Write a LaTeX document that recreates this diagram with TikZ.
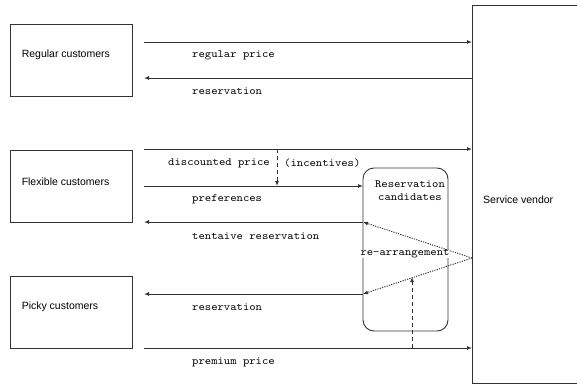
\documentclass[tikz,border=0pt]{standalone}
\usepackage{fontspec}
\setmainfont{Liberation Sans}
\setmonofont[FakeStretch=1.1]{Latin Modern Mono}
\usetikzlibrary{arrows.meta}
\definecolor{ln}{HTML}{333333}
\tikzset{
  every picture/.style={x=1pt,y=-1pt},
  custbox/.style={draw=ln,line width=0.9pt,minimum width=122pt,minimum height=72pt,inner sep=0pt},
  btext/.style={anchor=west,inner sep=0pt,font=\fontsize{10.5}{12}\selectfont},
  mtext/.style={inner sep=0pt,font=\ttfamily\fontsize{11}{13.5}\selectfont},
  flow/.style={draw=ln,line width=0.9pt,-{Latex[length=5pt,width=4pt]}},
  dflow/.style={flow,dash pattern=on 4pt off 3pt},
  oflow/.style={flow,dash pattern=on 1.2pt off 1.2pt},
}
\begin{document}
\begin{tikzpicture}
\useasboundingbox (0,0) rectangle (577,388);
% customer boxes
\node[custbox] (reg) at (71,60) {};
\node[btext] (regt) at ([xshift=12pt,yshift=5pt]reg.west) {Regular customers};
\node[custbox] (flex) at (71,186) {};
\node[btext] (flext) at ([xshift=12pt,yshift=4pt]flex.west) {Flexible customers};
\node[custbox] (picky) at (71,312) {};
\node[btext] (pickyt) at ([xshift=12pt,yshift=5pt]picky.west) {Picky customers};
% vendor
\draw[draw=ln,line width=0.9pt] (472,5.5) rectangle (585,383);
\node[btext] (vend) at (483,200) {Service vendor};
% reservation candidates
\node[draw=ln,line width=0.9pt,rounded corners=11pt,minimum width=85pt,minimum height=163pt,inner sep=0pt] (rc) at (405.5,249.5) {};
\node[mtext,align=center] (rct) at (410,190.5) {Reservation\\candidates};
% anchor coordinates
\coordinate (a1s) at (144,42);  \coordinate (a1e) at (472,42);
\coordinate (a2s) at (472,78);  \coordinate (a2e) at (144,78);
\coordinate (a3s) at (144,149); \coordinate (a3e) at (472,149);
\coordinate (a4s) at (144,186); \coordinate (a4e) at (363,186);
\coordinate (a5s) at (363,222); \coordinate (a5e) at (144,222);
\coordinate (a6s) at (363,294); \coordinate (a6e) at (144,294);
\coordinate (a7s) at (144,348); \coordinate (a7e) at (472,348);
\coordinate (vp) at (472,258);
\coordinate (d1s) at (277,149); \coordinate (d1e) at (277,186);
\coordinate (d2s) at (412,348); \coordinate (d2e) at (412,277);
% arrows
\draw[flow] (a1s) -- (a1e);
\draw[flow] (a2s) -- (a2e);
\draw[flow] (a3s) -- (a3e);
\draw[flow] (a4s) -- (a4e);
\draw[flow] (a5s) -- (a5e);
\draw[flow] (a6s) -- (a6e);
\draw[flow] (a7s) -- (a7e);
\draw[oflow] (vp) -- (a5s);
\draw[oflow] (vp) -- (a6s);
\draw[dflow] (d1s) -- (d1e);
\draw[dflow] (d2s) -- (d2e);
% labels
\node[mtext,anchor=west] (l1) at (192,55) {regular price};
\node[mtext,anchor=west] (l2) at (192,91) {reservation};
\node[mtext,anchor=west] (l3) at (168,163) {discounted price};
\node[mtext,anchor=west] (l3b) at (284,163) {(incentives)};
\node[mtext,anchor=west] (l4) at (192,199) {preferences};
\node[mtext,anchor=west] (l5) at (192,236) {tentaive reservation};
\node[mtext,anchor=west] (l6) at (192,307) {reservation};
\node[mtext,anchor=west] (l7) at (192,362) {premium price};
\node[mtext,fill=white,inner xsep=0pt] (l8) at (405,254) {re-arrangement};
\end{tikzpicture}
\end{document}
